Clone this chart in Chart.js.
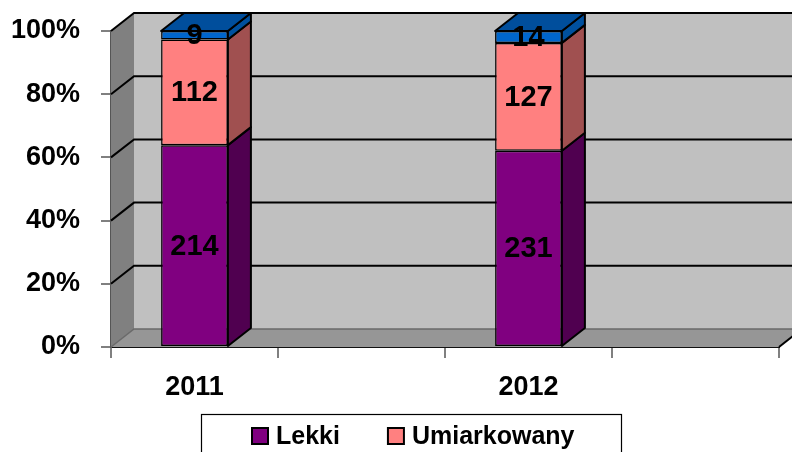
<!DOCTYPE html>
<html><head><meta charset="utf-8">
<script src="https://cdn.jsdelivr.net/npm/chart.js@4/dist/chart.umd.min.js"></script>
<style>html,body{margin:0;padding:0;background:#fff;}#wrap{width:792px;height:452px;}</style>
</head><body><div id="wrap"><canvas id="c" width="792" height="452"></canvas></div>
<script>
// ---- data ----
const categories = ['2011', '2012'];
const seriesNames = ['Lekki', 'Umiarkowany', 'Ciężki'];
const lekki = [214, 231];
const umiarkowany = [112, 127];
const ciezki = [9, 14];
const yTickValues = [0, 20, 40, 60, 80, 100];

// ---- styles ----
const FONT = "'Liberation Sans', Arial, sans-serif";
const frontColors = ['#800080', '#ff8080', '#0066cc'];
const sideColors = ['#500050', '#a05050', '#00509e'];
const topColors = ['#600060', '#c06060', '#004e9c'];
const DX = 23, DY = -18;

const series = [lekki, umiarkowany, ciezki];
const totals = categories.map((c, i) => series.reduce((s, arr) => s + arr[i], 0));
// each category followed by an empty slot (as in the original axis)
const labels = categories.flatMap(c => [c, '']);
const toSlots = arr => categories.flatMap((c, i) => [arr[i] / totals[i] * 100, null]);
const rawSlots = arr => categories.flatMap((c, i) => [arr[i], null]);

const datasets = series.map((arr, d) => ({
  label: seriesNames[d],
  data: toSlots(arr),
  raw: rawSlots(arr),
  backgroundColor: frontColors[d],
  borderColor: '#000',
  borderWidth: 1.5,
  borderSkipped: false,
  categoryPercentage: 1,
  barPercentage: 0.4
}));

const box3d = {
  id: 'box3d',
  beforeDatasetsDraw(chart) {
    const {ctx, chartArea: {left, right, top, bottom}, scales: {y}} = chart;
    const W = chart.width;
    ctx.save();
    // back wall
    ctx.fillStyle = '#c0c0c0';
    ctx.fillRect(left + DX, top + DY, W - (left + DX), bottom - top);
    // floor
    ctx.fillStyle = '#969696';
    ctx.beginPath();
    ctx.moveTo(left, bottom); ctx.lineTo(right, bottom);
    ctx.lineTo(right + DX, bottom + DY); ctx.lineTo(left + DX, bottom + DY);
    ctx.closePath(); ctx.fill();
    // left wall
    ctx.fillStyle = '#808080';
    ctx.beginPath();
    ctx.moveTo(left, top); ctx.lineTo(left + DX, top + DY);
    ctx.lineTo(left + DX, bottom + DY); ctx.lineTo(left, bottom);
    ctx.closePath(); ctx.fill();
    // gridlines
    yTickValues.forEach(v => {
      const yy = y.getPixelForValue(v);
      ctx.beginPath();
      ctx.moveTo(left, yy); ctx.lineTo(left + DX, yy + DY); ctx.lineTo(W + 5, yy + DY);
      if (v === 0) { ctx.strokeStyle = '#6a6a6a'; ctx.lineWidth = 1.5; }
      else { ctx.strokeStyle = '#000'; ctx.lineWidth = 2; }
      ctx.stroke();
    });
    // right end of floor
    ctx.strokeStyle = '#000'; ctx.lineWidth = 2;
    ctx.beginPath(); ctx.moveTo(right, bottom); ctx.lineTo(right + DX, bottom + DY); ctx.stroke();
    ctx.restore();
  },
  afterDatasetsDraw(chart) {
    const {ctx} = chart;
    ctx.save();
    ctx.lineJoin = 'round';
    ctx.strokeStyle = '#000'; ctx.lineWidth = 2;
    const n = chart.data.datasets.length;
    for (let d = 0; d < n; d++) {
      const meta = chart.getDatasetMeta(d);
      meta.data.forEach((el, i) => {
        if (chart.data.datasets[d].data[i] == null) return;
        const p = el.getProps(['x', 'y', 'base', 'width'], true);
        const l = p.x - p.width / 2, r = p.x + p.width / 2;
        // side face
        ctx.fillStyle = sideColors[d];
        ctx.beginPath();
        ctx.moveTo(r, p.y); ctx.lineTo(r + DX, p.y + DY);
        ctx.lineTo(r + DX, p.base + DY); ctx.lineTo(r, p.base);
        ctx.closePath(); ctx.fill(); ctx.stroke();
        if (d === n - 1) {
          ctx.fillStyle = topColors[d];
          ctx.beginPath();
          ctx.moveTo(l, p.y); ctx.lineTo(l + DX, p.y + DY);
          ctx.lineTo(r + DX, p.y + DY); ctx.lineTo(r, p.y);
          ctx.closePath(); ctx.fill(); ctx.stroke();
        }
      });
    }
    // data labels
    ctx.fillStyle = '#000';
    ctx.font = 'bold 29px ' + FONT;
    ctx.textAlign = 'center'; ctx.textBaseline = 'middle';
    for (let d = 0; d < n; d++) {
      const ds = chart.data.datasets[d];
      chart.getDatasetMeta(d).data.forEach((el, i) => {
        if (ds.data[i] == null) return;
        const p = el.getProps(['x', 'y', 'base'], true);
        ctx.fillText(String(ds.raw[i]), p.x, (p.y + p.base) / 2 + 1);
      });
    }
    ctx.restore();
  },
  afterDraw(chart) {
    const {ctx} = chart;
    ctx.save();
    ctx.strokeStyle = '#000'; ctx.lineWidth = 1.2;
    ctx.strokeRect(201.5, 414.5, 420, 60);
    ctx.font = 'bold 25px ' + FONT;
    ctx.textBaseline = 'middle'; ctx.textAlign = 'left';
    let x = 252;
    for (let d = 0; d < 2; d++) {
      ctx.fillStyle = frontColors[d];
      ctx.fillRect(x, 428, 16, 16);
      ctx.lineWidth = 2; ctx.strokeStyle = '#000';
      ctx.strokeRect(x, 428, 16, 16);
      ctx.fillStyle = '#000';
      const t = chart.data.datasets[d].label;
      ctx.fillText(t, x + 24, 437);
      x += 24 + ctx.measureText(t).width + 48;
    }
    ctx.restore();
  }
};

new Chart(document.getElementById('c'), {
  type: 'bar',
  data: { labels, datasets },
  plugins: [box3d],
  options: {
    responsive: false,
    devicePixelRatio: 1,
    animation: false,
    layout: { padding: { top: 31, right: 13, left: 0, bottom: 45 } },
    plugins: { legend: { display: false }, tooltip: { enabled: false } },
    scales: {
      x: {
        stacked: true,
        offset: true,
        grid: { display: true, offset: true, drawOnChartArea: false, tickLength: 11, color: '#808080', lineWidth: 2 },
        border: { display: true, color: '#111', width: 2 },
        ticks: { color: '#000', font: { family: FONT, size: 27, weight: 'bold' }, padding: 13, maxRotation: 0, autoSkip: false },
        afterFit(s) { s.height = 60; s.paddingLeft = 0; s.paddingRight = 0; }
      },
      y: {
        stacked: true,
        min: 0, max: 100,
        ticks: { stepSize: 20, color: '#000', font: { family: FONT, size: 27, weight: 'bold' }, padding: 21,
                 callback: v => v + '%' },
        grid: { display: true, drawOnChartArea: false, tickLength: 10, color: '#808080', lineWidth: 2 },
        border: { display: true, color: '#555', width: 2 },
        afterFit(s) { s.width = 111; s.paddingTop = 0; s.paddingBottom = 0; }
      }
    }
  }
});
</script></body></html>
